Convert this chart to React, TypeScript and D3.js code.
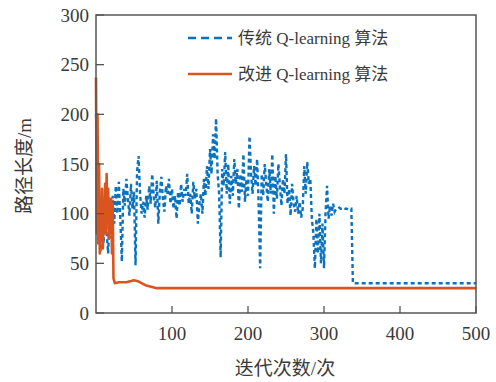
import React, { useEffect, useRef } from "react";
import * as d3 from "d3";

// 传统 Q-learning：每 2 次迭代取一个值（0~338），之后平稳
const traditionalStep = 2;
const traditionalVals = [
  200, 150, 95, 62, 105, 70, 112, 80, 60, 100, 75, 118, 90, 128, 100, 132, 95, 52, 125, 108,
  135, 115, 98, 130, 105, 122, 48, 142, 158, 120, 100, 112, 96, 118, 104, 128, 110, 140, 118, 106,
  133, 90, 122, 137, 115, 102, 128, 120, 135, 110, 125, 105, 118, 95, 122, 108, 130, 112, 125, 118,
  140, 110, 120, 100, 132, 115, 125, 90, 110, 120, 100, 135, 118, 148, 125, 165, 140, 180, 155, 196,
  140, 120, 56, 145, 128, 162, 120, 150, 110, 138, 118, 155, 130, 145, 105, 140, 122, 160, 112, 135,
  118, 178, 140, 120, 148, 128, 155, 110, 45, 140, 118, 150, 130, 112, 145, 120, 160, 100, 138, 115,
  150, 128, 108, 135, 120, 160, 110, 125, 98, 130, 110, 102, 118, 100, 112, 96, 105, 148, 120, 152,
  130, 135, 95, 80, 45, 95, 60, 100, 50, 90, 45, 100, 128, 95, 108, 98, 110, 102, 105, 105,
  106, 105, 105, 106, 105, 105, 104, 105, 105, 30,
];
const traditionalTailIter = [340, 500];
const traditionalTailVals = [30, 30];

// 改进 Q-learning
const improvedIter = [
  0, 1, 2, 3, 4, 5, 6, 7, 8, 9, 10, 11, 12, 13, 14, 15, 16, 17, 18, 19, 20, 21, 22, 23, 24, 25,
  30, 40, 50, 55, 60, 65, 70, 75, 80, 500,
];
const improvedVals = [
  237, 80, 200, 70, 150, 60, 110, 75, 125, 65, 100, 85, 130, 80, 140, 90, 125, 75, 115, 100, 115,
  60, 110, 35, 32, 30, 31, 31, 33, 32, 30, 28, 27, 26, 25, 25,
];

const xTicks = [100, 200, 300, 400, 500];
const yTicks = [0, 50, 100, 150, 200, 250, 300];
const legendLabels = ["传统 Q-learning 算法", "改进 Q-learning 算法"];
const xTitle = "迭代次数/次";
const yTitle = "路径长度/m";

const W = 496;
const H = 382;
const FONT = `"Liberation Serif", "Times New Roman", "DejaVu Serif", "Noto Sans CJK SC", serif`;

const App = () => {
  const ref = useRef<SVGSVGElement>(null);

  useEffect(() => {
    const svg = d3.select(ref.current);
    svg.selectAll("*").remove();

    const left = 96, right = 476, top = 15, bottom = 313;
    const x = d3.scaleLinear().domain([0, 500]).range([left, right]);
    const y = d3.scaleLinear().domain([0, 300]).range([bottom, top]);

    const blue = "#0b72bd";
    const orange = "#d9541e";
    const textColor = "#3a3a3a";

    const tradData: [number, number][] = traditionalVals.map((v, i) => [i * traditionalStep, v]);
    traditionalTailIter.forEach((it, i) => tradData.push([it, traditionalTailVals[i]]));
    const impData: [number, number][] = improvedIter.map((it, i) => [it, improvedVals[i]]);

    const line = d3
      .line<[number, number]>()
      .x((d) => x(d[0]))
      .y((d) => y(d[1]));

    const g = svg.append("g");

    g.append("path")
      .attr("d", line(tradData))
      .attr("fill", "none")
      .attr("stroke", blue)
      .attr("stroke-width", 2.4)
      .attr("stroke-dasharray", "4,3");

    g.append("path")
      .attr("d", line(impData))
      .attr("fill", "none")
      .attr("stroke", orange)
      .attr("stroke-width", 2.6)
      .attr("stroke-linejoin", "round");

    // 边框
    svg.append("rect")
      .attr("x", left)
      .attr("y", top)
      .attr("width", right - left)
      .attr("height", bottom - top)
      .attr("fill", "none")
      .attr("stroke", "#555")
      .attr("stroke-width", 1.5);

    // 刻度（向内）
    svg.append("g")
      .selectAll("line")
      .data(xTicks)
      .enter()
      .append("line")
      .attr("x1", (d) => x(d))
      .attr("x2", (d) => x(d))
      .attr("y1", bottom)
      .attr("y2", bottom - 7)
      .attr("stroke", "#555")
      .attr("stroke-width", 1.3);

    svg.append("g")
      .selectAll("line")
      .data(yTicks)
      .enter()
      .append("line")
      .attr("x1", left)
      .attr("x2", left + 8)
      .attr("y1", (d) => y(d))
      .attr("y2", (d) => y(d))
      .attr("stroke", "#555")
      .attr("stroke-width", 1.3);

    svg.append("g")
      .selectAll("text")
      .data(xTicks)
      .enter()
      .append("text")
      .attr("x", (d) => x(d))
      .attr("y", 340)
      .attr("text-anchor", "middle")
      .attr("font-size", 19)
      .style("font-family", FONT)
      .attr("fill", textColor)
      .text((d) => d);

    svg.append("g")
      .selectAll("text")
      .data(yTicks)
      .enter()
      .append("text")
      .attr("x", 89)
      .attr("y", (d) => y(d) + 6.5)
      .attr("text-anchor", "end")
      .attr("font-size", 19)
      .style("font-family", FONT)
      .attr("fill", textColor)
      .text((d) => d);

    svg.append("text")
      .attr("x", 285)
      .attr("y", 375)
      .attr("text-anchor", "middle")
      .attr("font-size", 19)
      .style("font-family", FONT)
      .attr("fill", textColor)
      .text(xTitle);

    svg.append("text")
      .attr("transform", `translate(31, 166) rotate(-90)`)
      .attr("text-anchor", "middle")
      .attr("font-size", 19)
      .style("font-family", FONT)
      .attr("fill", textColor)
      .text(yTitle);

    // 图例
    const legend = svg.append("g");
    const rows = [
      { label: legendLabels[0], color: blue, dash: "8,5", y: 38 },
      { label: legendLabels[1], color: orange, dash: null, y: 74 },
    ];
    rows.forEach((r) => {
      legend.append("line")
        .attr("x1", 188)
        .attr("x2", 232)
        .attr("y1", r.y)
        .attr("y2", r.y)
        .attr("stroke", r.color)
        .attr("stroke-width", 2.6)
        .attr("stroke-dasharray", r.dash);
      legend.append("text")
        .attr("x", 238)
        .attr("y", r.y + 6)
        .attr("font-size", 17)
        .style("font-family", FONT)
        .attr("fill", textColor)
        .text(r.label);
    });
  }, []);

  return (
    <svg
      ref={ref}
      width={W}
      height={H}
      style={{ position: "absolute", left: 0, top: 0, background: "#fff" }}
    ></svg>
  );
};

export default App;
